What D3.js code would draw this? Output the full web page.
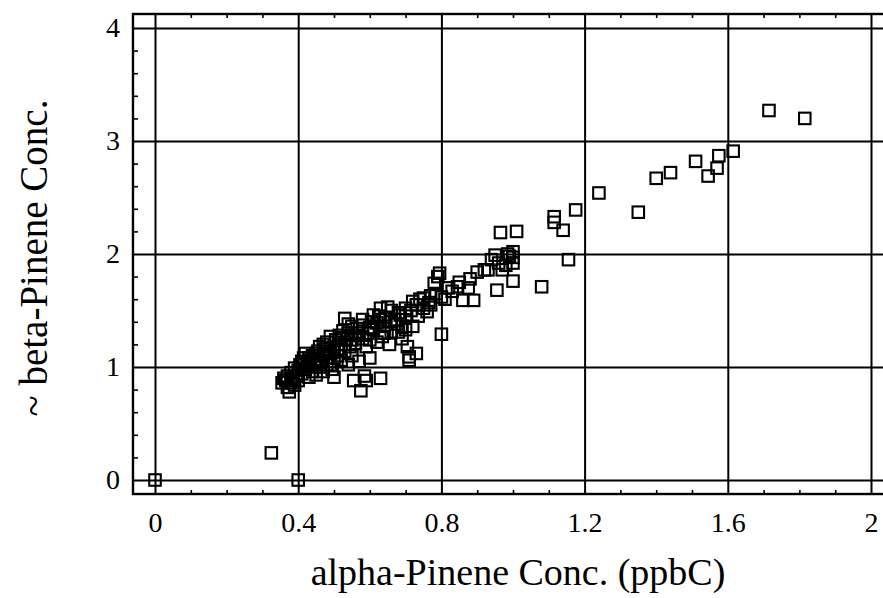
<!DOCTYPE html>
<html>
<head>
<meta charset="utf-8">
<script src="https://cdn.jsdelivr.net/npm/d3@7"></script>
<style>
  html, body { margin: 0; padding: 0; background: #fff; }
  svg { display: block; }
  text { font-family: "Liberation Serif", "Times New Roman", serif; fill: #000; }
</style>
</head>
<body>
<svg id="chart" width="883" height="598"></svg>
<script>
// ---- data ----
const xTickValues = [0, 0.4, 0.8, 1.2, 1.6, 2];
const xTickLabels = ["0", "0.4", "0.8", "1.2", "1.6", "2"];
const yTickValues = [0, 1, 2, 3, 4];
const yTickLabels = ["0", "1", "2", "3", "4"];
const xTitle = "alpha-Pinene Conc. (ppbC)";
const yTitle = "~ beta-Pinene Conc.";

const alphaPinene = [
  0.355,0.365,0.37,0.375,0.38,0.385,0.39,0.395,0.40,0.40,0.405,0.41,0.415,0.42,0.42,0.425,0.43,0.43,0.435,0.44,
  0.44,0.445,0.45,0.45,0.455,0.46,0.46,0.465,0.47,0.47,0.475,0.48,0.48,0.485,0.49,0.49,0.495,0.50,0.50,0.50,
  0.505,0.51,0.51,0.515,0.52,0.52,0.525,0.53,0.53,0.535,0.54,0.54,0.545,0.55,0.55,0.555,0.56,0.56,0.565,0.57,
  0.575,0.58,0.58,0.585,0.59,0.59,0.595,0.60,0.60,0.605,0.61,0.62,0.62,0.625,0.63,0.63,0.635,0.64,0.645,0.65,
  0.655,0.66,0.66,0.67,0.675,0.68,0.685,0.69,0.70,0.70,0.705,0.71,0.71,0.715,0.72,0.72,0.73,0.735,0.74,0.75,
  0.76,0.765,0.77,0.78,0.785,0.79,0.795,0.80,0.80,0.81,0.83,0.845,0.86,0.875,0.89,0.90,0.92,0.93,0.94,0.95,
  0.955,0.965,0.97,0.98,0.99,1.00,1.00,1.00,1.01,1.00,1.08,1.115,1.115,1.14,1.155,1.175,1.24,1.35,1.40,1.44,
  1.51,1.545,1.57,1.575,1.615,1.715,1.815,0.325,0,0.4,
  0.36,0.37,0.38,0.39,0.41,0.43,0.45,0.46,0.47,0.48,0.49,0.50,0.52,0.53,0.54,0.55,0.57,0.58,0.60,0.61,
  0.63,0.64,0.66,0.68,0.69,0.70,0.73,0.75,0.77,0.82,0.85,0.88,0.96,0.985
];
const betaPinene = [
  0.86,0.88,0.82,0.78,0.86,0.90,0.84,0.92,0.88,0.97,1.02,0.94,1.08,1.12,0.98,1.04,0.91,1.00,1.06,0.96,
  1.10,1.02,0.93,1.07,1.14,1.00,1.18,1.05,0.96,1.10,1.16,1.02,1.22,1.08,1.27,1.12,0.98,0.91,1.05,1.18,
  1.24,1.15,1.10,1.28,1.06,1.20,1.32,1.43,1.14,1.25,1.02,1.30,1.18,1.36,1.10,0.88,1.21,1.28,1.34,1.05,
  0.79,1.37,1.25,0.92,0.88,1.18,1.30,1.24,1.08,1.40,1.33,1.39,1.22,1.45,0.90,1.52,1.27,1.36,1.44,1.53,
  1.20,1.50,1.31,1.42,1.38,1.31,1.46,1.25,1.33,1.45,1.18,1.09,1.06,1.50,1.58,1.36,1.12,1.45,1.60,1.61,
  1.49,1.57,1.55,1.74,1.65,1.80,1.83,1.62,1.29,1.60,1.67,1.71,1.59,1.70,1.59,1.84,1.86,1.86,1.95,1.99,
  1.68,2.19,1.86,1.90,1.98,2.02,1.97,1.76,2.20,1.92,1.71,2.33,2.28,2.21,1.95,2.39,2.54,2.37,2.67,2.72,
  2.82,2.69,2.76,2.87,2.91,3.27,3.20,0.24,0,0,
  0.90,0.92,0.95,0.99,1.05,1.08,1.12,1.04,1.20,1.14,1.02,1.13,1.26,1.20,1.38,1.24,1.30,1.42,1.35,1.46,
  1.42,1.30,1.40,1.48,1.36,1.52,1.55,1.52,1.63,1.70,1.75,1.78,1.92,2.00
];

// ---- layout ----
const svg = d3.select("#chart");
const x = d3.scaleLinear().domain([0, 2]).range([155, 871]);
const y = d3.scaleLinear().domain([0, 4]).range([480, 28]);
const fx0 = x(-0.0615), fx1 = x(2.0615);
const fy0 = y(4.124), fy1 = y(-0.124);

// gridlines through the library's axes
svg.append("g")
  .attr("transform", `translate(0,${fy1})`)
  .call(d3.axisBottom(x).tickValues(xTickValues).tickSize(-(fy1 - fy0)).tickFormat(""))
  .call(g => g.select(".domain").remove())
  .call(g => g.selectAll("line").attr("stroke", "#000").attr("stroke-width", 2));
svg.append("g")
  .attr("transform", `translate(${fx0},0)`)
  .call(d3.axisLeft(y).tickValues(yTickValues).tickSize(-(fx1 - fx0)).tickFormat(""))
  .call(g => g.select(".domain").remove())
  .call(g => g.selectAll("line").attr("stroke", "#000").attr("stroke-width", 2));

// minor ticks on frame (inward)
const xMinor = d3.range(0, 21).map(i => i / 10).filter(v => Math.round(v * 10) % 4 !== 0);
const yMinor = d3.range(0, 21).map(i => i / 5).filter(v => Math.abs(v - Math.round(v)) > 1e-6);
svg.append("g").attr("transform", `translate(0,${fy1})`)
  .call(d3.axisBottom(x).tickValues(xMinor).tickSize(-4).tickFormat(""))
  .call(g => g.select(".domain").remove())
  .call(g => g.selectAll("line").attr("stroke", "#000").attr("stroke-width", 1.6));
svg.append("g").attr("transform", `translate(0,${fy0})`)
  .call(d3.axisTop(x).tickValues(xMinor).tickSize(-4).tickFormat(""))
  .call(g => g.select(".domain").remove())
  .call(g => g.selectAll("line").attr("stroke", "#000").attr("stroke-width", 1.6));
svg.append("g").attr("transform", `translate(${fx0},0)`)
  .call(d3.axisLeft(y).tickValues(yMinor).tickSize(-5).tickFormat(""))
  .call(g => g.select(".domain").remove())
  .call(g => g.selectAll("line").attr("stroke", "#000").attr("stroke-width", 1.6));

// frame
svg.append("rect")
  .attr("x", fx0).attr("y", fy0)
  .attr("width", fx1 - fx0).attr("height", fy1 - fy0)
  .attr("fill", "none").attr("stroke", "#000").attr("stroke-width", 2.4);

// tick labels
svg.append("g").attr("transform", `translate(0,${fy1})`)
  .call(d3.axisBottom(x).tickValues(xTickValues).tickSize(0).tickPadding(18)
    .tickFormat((d, i) => xTickLabels[i]))
  .call(g => g.select(".domain").remove())
  .call(g => g.selectAll("text").style("font-size", "28px")
    .style("font-family", "'Liberation Serif', serif").attr("fill", "#000"));
svg.append("g").attr("transform", `translate(${fx0},0)`)
  .call(d3.axisLeft(y).tickValues(yTickValues).tickSize(0).tickPadding(13)
    .tickFormat((d, i) => yTickLabels[i]))
  .call(g => g.select(".domain").remove())
  .call(g => g.selectAll("text").style("font-size", "28px")
    .style("font-family", "'Liberation Serif', serif").attr("fill", "#000"));

// points: open squares
const pts = alphaPinene.map((a, i) => [a, betaPinene[i]]);
const s = 11.5;
svg.append("g").selectAll("rect").data(pts).join("rect")
  .attr("x", d => x(d[0]) - s / 2).attr("y", d => y(d[1]) - s / 2)
  .attr("width", s).attr("height", s)
  .attr("fill", "none").attr("stroke", "#000").attr("stroke-width", 2.1);

// titles
svg.append("text")
  .attr("x", 518).attr("y", 585)
  .attr("text-anchor", "middle")
  .style("font-size", "38px")
  .text(xTitle);
svg.append("text")
  .attr("transform", `translate(47,258) rotate(-90)`)
  .attr("text-anchor", "middle")
  .style("font-size", "39px")
  .text(yTitle);
</script>
</body>
</html>
